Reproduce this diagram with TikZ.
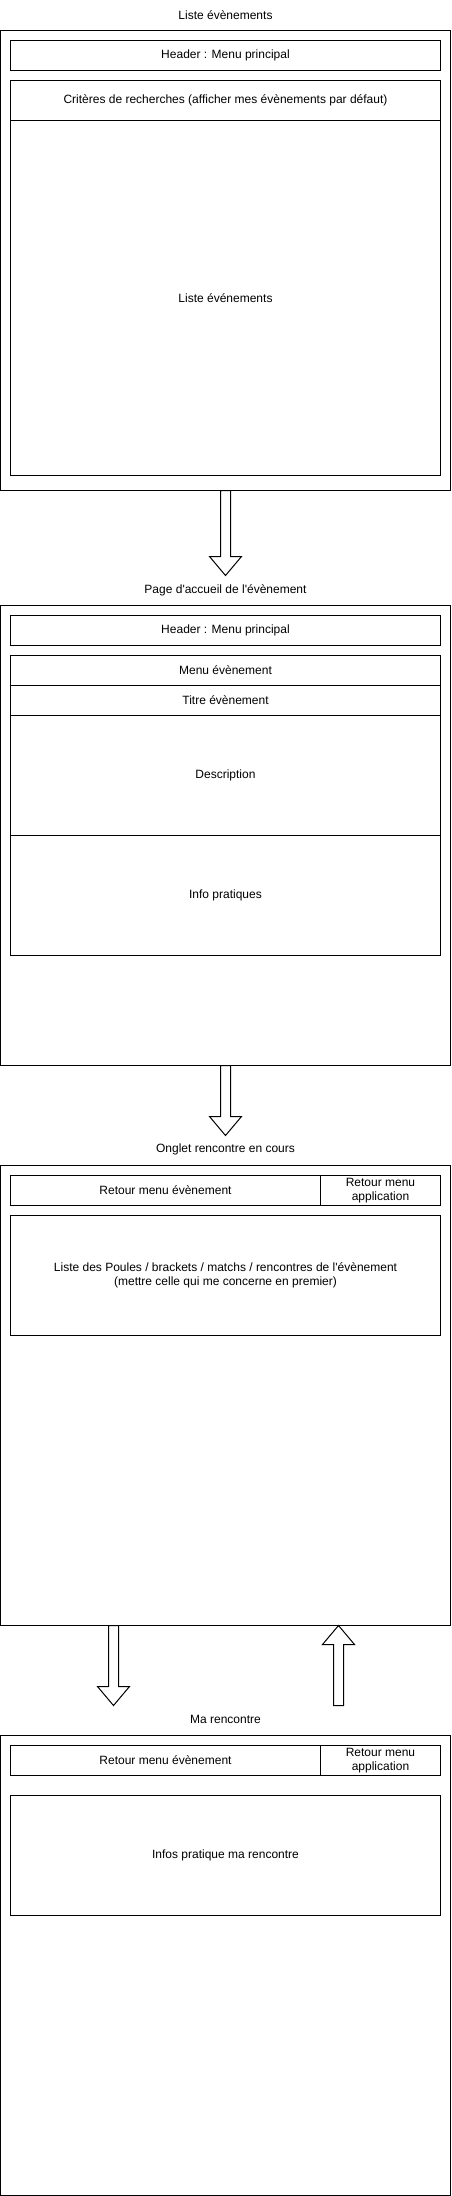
\documentclass[tikz,border=0pt]{standalone}
\usepackage{fontspec}
\setmainfont{Liberation Sans}
\usetikzlibrary{calc}

\tikzset{
  ecran/.style={draw, line width=1pt, rectangle, anchor=north west, outer sep=0pt,
    minimum width=450pt, minimum height=460pt},
  bloc/.style={draw, line width=1pt, rectangle, anchor=north west, outer sep=0pt,
    minimum width=430pt, align=center},
  retour/.style={bloc, minimum height=30pt, inner sep=1pt},
  titre/.style={inner sep=0pt},
  fleche/.style={draw, line width=1pt, fill=white, line join=miter}
}
% fleche pleine : queue, pointe
\newcommand{\flechebas}[2]{%
  \draw[fleche] ($(#1)+(-5,0)$) |- ($(#2)+(-16,-19)$) -- (#2) -- ($(#2)+(16,-19)$) -| ($(#1)+(5,0)$) -- cycle;}
\newcommand{\flechehaut}[2]{%
  \draw[fleche] ($(#1)+(-5,0)$) |- ($(#2)+(-16,19)$) -- (#2) -- ($(#2)+(16,19)$) -| ($(#1)+(5,0)$) -- cycle;}

\begin{document}
\begin{tikzpicture}[x=1pt, y=-1pt, font=\fontsize{12}{14.4}\selectfont]
    \useasboundingbox (-0.5,-0.5) rectangle (450.5,2195.5);

    % liste des evenements
    \node [titre] (t1) at (225,15) {Liste évènements};
    \node [ecran] (p1) at (0,30) {};
    \node [bloc, minimum height=30pt] (h1) at (10,40) {Header : Menu principal};
    \node [bloc, minimum height=40pt] (c1) at (10,80) {Critères de recherches (afficher mes évènements par défaut)};
    \node [bloc, minimum height=355pt] (l1) at (10,120) {Liste événements};

    % accueil evenement
    \node [titre] (t2) at (225,590) {Page d\textquotesingle accueil de l\textquotesingle évènement};
    \node [ecran] (p2) at (0,605) {};
    \node [bloc, minimum height=30pt] (h2) at (10,615) {Header : Menu principal};
    \node [bloc, minimum height=30pt] (m2) at (10,655) {Menu évènement};
    \node [bloc, minimum height=30pt] (n2) at (10,685) {Titre évènement};
    \node [bloc, minimum height=120pt] (d2) at (10,715) {Description};
    \node [bloc, minimum height=120pt] (i2) at (10,835) {Info pratiques};

    % onglet rencontre
    \node [titre] (t3) at (225,1149) {Onglet rencontre en cours};
    \node [ecran] (p3) at (0,1165) {};
    \node [retour, minimum width=310pt] (r3) at (10,1175) {Retour menu évènement};
    \node [retour, minimum width=120pt] (a3) at (320,1175) {Retour menu\\application};
    \node [bloc, minimum height=120pt] (l3) at (10,1215) {Liste des Poules / brackets / matchs / rencontres de l\textquotesingle évènement\\(mettre celle qui me concerne en premier)};

    % ma rencontre
    \node [titre] (t4) at (225,1719) {Ma rencontre};
    \node [ecran] (p4) at (0,1735) {};
    \node [retour, minimum width=310pt] (r4) at (10,1745) {Retour menu évènement};
    \node [retour, minimum width=120pt] (a4) at (320,1745) {Retour menu\\application};
    \node [bloc, minimum height=120pt] (i4) at (10,1795) {Infos pratique ma rencontre};

    % fleches
    \coordinate (f1) at (225,575);
    \coordinate (f2) at (225,1135);
    \coordinate (f3) at (113,1705);
    \coordinate (q4) at (338,1705);
    \coordinate (d3) at (113,1625);
    \coordinate (u3) at (338,1625);
    \flechebas{p1.south}{f1}
    \flechebas{p2.south}{f2}
    \flechebas{d3}{f3}
    \flechehaut{q4}{u3}
\end{tikzpicture}
\end{document}
